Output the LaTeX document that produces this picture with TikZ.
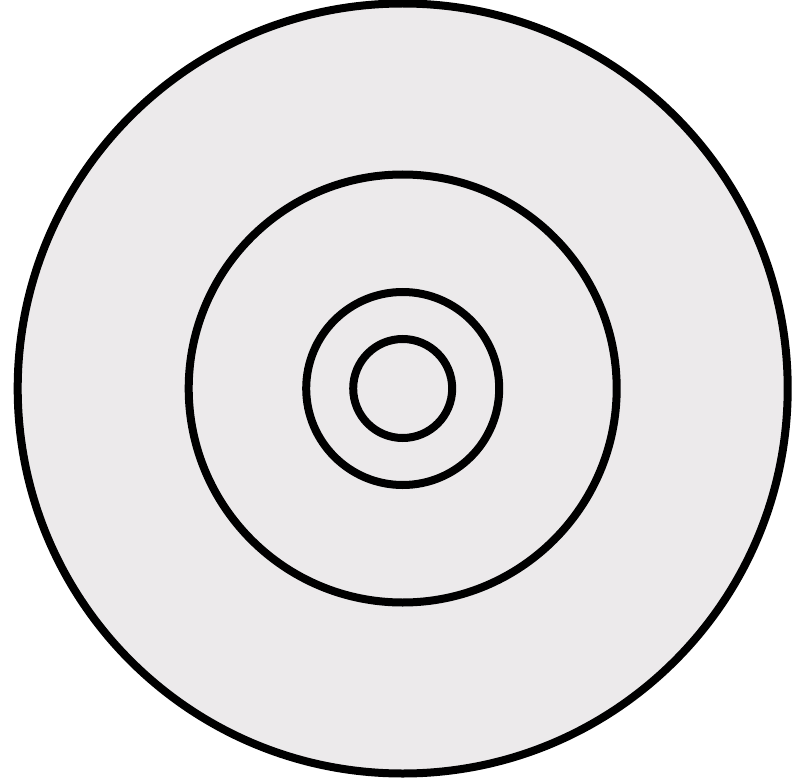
\documentclass[tikz,border=0pt]{standalone}
\definecolor{discfill}{RGB}{236,234,235}
\tikzset{ring/.style={draw=black, line width=8pt}}
\begin{document}
\begin{tikzpicture}[x=1pt,y=-1pt]
\useasboundingbox (0,0) rectangle (800,778);
\fill[white] (0,0) rectangle (800,778);
\coordinate (c) at (402.7,388.5);
\draw[ring, fill=discfill] (c) circle[radius=385];
\draw[ring] (c) circle[radius=214];
\draw[ring] (c) circle[radius=96.5];
\draw[ring] (c) circle[radius=49.5];
\end{tikzpicture}
\end{document}
